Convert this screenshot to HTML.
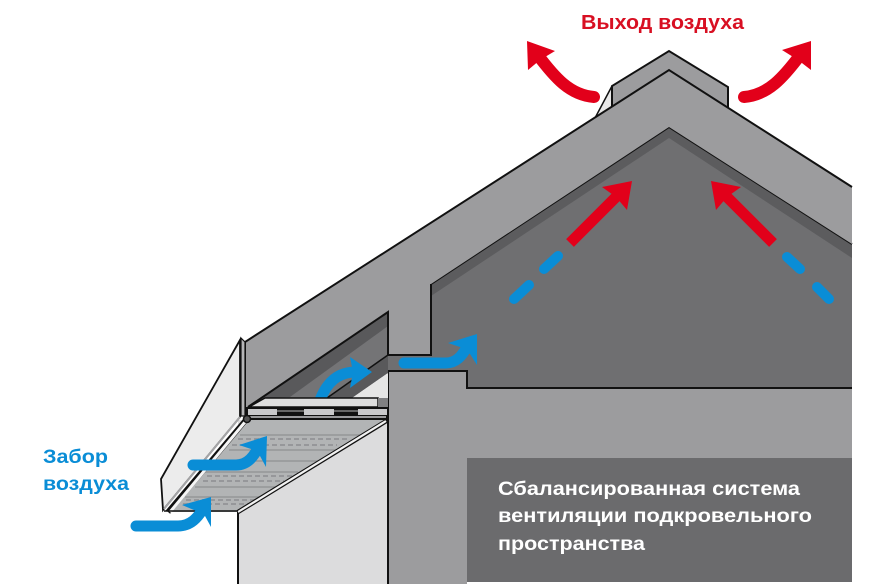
<!DOCTYPE html>
<html><head><meta charset="utf-8"><style>
html,body{margin:0;padding:0;background:#fff}
svg{display:block}
text{font-family:"Liberation Sans",sans-serif;font-weight:bold}
</style></head><body>
<svg width="889" height="584" viewBox="0 0 889 584" xmlns="http://www.w3.org/2000/svg">
<rect width="889" height="584" fill="#fff"/>
<!-- ridge vent -->
<path d="M612 86L595 118L612 108Z" fill="#e8e8e8" stroke="#111" stroke-width="1.5"/>
<path d="M612 108V86L669 51L728 87V110Z" fill="#9c9c9e" stroke="#111" stroke-width="2"/>
<!-- attic interior -->
<path d="M431 285L669 127L852 244V388H467V371H388V355H431Z" fill="#6f6f71"/>
<path d="M431 285L669 127L852 244V258L669 138L431 296Z" fill="#5c5c5e"/>
<path d="M431 284L669 127L852 244" fill="none" stroke="#111" stroke-width="2"/>
<!-- wall under eave -->
<rect x="238" y="420" width="150" height="164" fill="#dcdcdd"/>
<path d="M238 584V512M388 584V420" stroke="#111" stroke-width="2"/>
<!-- wall / ceiling -->
<path d="M388 584V371H467V388H852V458H467V584Z" fill="#9c9c9e"/>
<path d="M388 584V371H467V388H852" fill="none" stroke="#111" stroke-width="2"/>
<rect x="467" y="458" width="385" height="124" fill="#6b6b6d"/>
<!-- eave cavity -->
<path d="M248 407L388 312V372L352 398H265Z" fill="#747476"/>
<path d="M262 398L388 312V326L290 397Z" fill="#59595b"/>
<path d="M327 398L388 355V373L352 398Z" fill="#59595b"/>
<path d="M352 398L388 373V398Z" fill="#e6e6e6"/>
<path d="M327 398L388 355" stroke="#111" stroke-width="1.5"/>
<!-- arrow through cavity -->
<path d="M320 400C327 382 338 372 356 372" fill="none" stroke="#0a8dd6" stroke-width="11"/>
<path d="M372 372L350 357L353 372L350 388Z" fill="#0a8dd6"/>
<!-- roof slab -->
<path d="M245 342L669 70L852 187V244L669 127L431 284V355H388V312L248 407L245 416Z" fill="#9c9c9e"/>
<path d="M245 416V342L669 70L852 187" fill="none" stroke="#111" stroke-width="2"/>
<path d="M248 407L388 312V355H431V284" fill="none" stroke="#111" stroke-width="2"/>
<!-- fascia end -->
<path d="M240 340L161 479L163 510L240 417Z" fill="#ececec" stroke="#111" stroke-width="1.8"/>
<path d="M241 338L245 342V416H241Z" fill="#b5b5b7" stroke="#111" stroke-width="1.2"/>
<!-- plate -->
<path d="M249 407L265 398H378V407Z" fill="#dedede" stroke="#111" stroke-width="1.5"/>
<rect x="378" y="398" width="10" height="10" fill="#808082"/>
<rect x="246" y="407" width="142" height="13" fill="#111"/>
<rect x="248" y="409" width="29" height="6" fill="#c9c9cb"/>
<rect x="304" y="409" width="30" height="6" fill="#c9c9cb"/>
<rect x="358" y="409" width="29" height="6" fill="#c9c9cb"/>
<rect x="277" y="410" width="27" height="2" fill="#666"/>
<rect x="334" y="410" width="24" height="2" fill="#666"/>
<rect x="248" y="416" width="138" height="2" fill="#9a9a9c"/>
<!-- soffit -->
<path d="M250 420H386L238 512H168Z" fill="#b2b4b5"/>
<g stroke="#8f9092" stroke-width="1.2" fill="none">
<path d="M240 435H361"/><path d="M229 450H337"/><path d="M216 461H320"/>
<path d="M205 472H298"/><path d="M195 487H276"/><path d="M185 497H260"/>
</g>
<g stroke="#96979a" stroke-width="2" stroke-dasharray="5 3" fill="none">
<path d="M238 439H347"/><path d="M232 445H337"/>
<path d="M207 476H293"/><path d="M203 481H284"/>
<path d="M186 500H258"/><path d="M183 504H250"/>
</g>
<path d="M388 420L238 512" stroke="#111" stroke-width="4.5"/>
<path d="M386 421L238 512" stroke="#f2f2f2" stroke-width="2.2"/>
<!-- left rail -->
<path d="M245 421L168 512" stroke="#111" stroke-width="5.5"/>
<path d="M245 422L170 512" stroke="#f5f5f5" stroke-width="3"/>
<path d="M240 417L164 509" stroke="#a5a5a7" stroke-width="2"/>
<circle cx="247" cy="419" r="3.5" fill="#555" stroke="#111" stroke-width="1.5"/>
<path d="M164 511H238" stroke="#111" stroke-width="1.5"/>
<!-- blue arrows -->
<g fill="none" stroke="#0a8dd6" stroke-width="11" stroke-linecap="round">
<path d="M136 526H178C191 526 198 517 203 509"/>
<path d="M193 465H236C248 465 254 456 260 445"/>
</g>
<path d="M404 363H446C456 363 462 356 467 347" fill="none" stroke="#0a8dd6" stroke-width="11" stroke-linecap="round"/>
<g fill="#0a8dd6">
<path d="M211 497L182 505L194 510L201 513L205 516L211 527Z"/>
<path d="M267 436L239 445L251 449L257 451L260 456L266 467Z"/>
<path d="M477 334L448 343L460 347L465 351L470 354L477 365Z"/>
</g>
<g stroke="#0a8dd6" stroke-width="10" stroke-linecap="round">
<path d="M514 299L529 285"/><path d="M544 269L558 256"/>
<path d="M787 257L800 269"/><path d="M817 287L829 299"/>
</g>
<!-- red arrows -->
<g fill="none" stroke="#e2001a" stroke-width="11">
<path d="M570 243L620 193"/>
<path d="M773 243L723 193"/>
</g>
<g fill="none" stroke="#e2001a" stroke-width="12" stroke-linecap="round">
<path d="M594 97C570 95 555 78 537 54"/>
<path d="M744 97C768 95 783 78 801 54"/>
</g>
<g fill="#e2001a">
<path d="M632 181L602 187L616 197L627 210Z"/>
<path d="M711 181L741 187L727 197L716 210Z"/>
<path d="M527 41L555 51L540 60L528 70Z"/>
<path d="M811 41L782 50L798 60L811 70Z"/>
</g>
<!-- labels -->
<text x="581" y="29" font-size="20" fill="#d80f22" textLength="163" lengthAdjust="spacingAndGlyphs">Выход воздуха</text>
<text x="43" y="463" font-size="19.5" fill="#0a8dd6" textLength="65" lengthAdjust="spacingAndGlyphs">Забор</text>
<text x="43" y="490" font-size="19.5" fill="#0a8dd6" textLength="86" lengthAdjust="spacingAndGlyphs">воздуха</text>
<text x="498" y="495" font-size="19.5" fill="#fff" textLength="302" lengthAdjust="spacingAndGlyphs">Сбалансированная система</text>
<text x="498" y="522" font-size="19.5" fill="#fff" textLength="314" lengthAdjust="spacingAndGlyphs">вентиляции подкровельного</text>
<text x="498" y="550" font-size="19.5" fill="#fff" textLength="147" lengthAdjust="spacingAndGlyphs">пространства</text>
</svg>
</body></html>
